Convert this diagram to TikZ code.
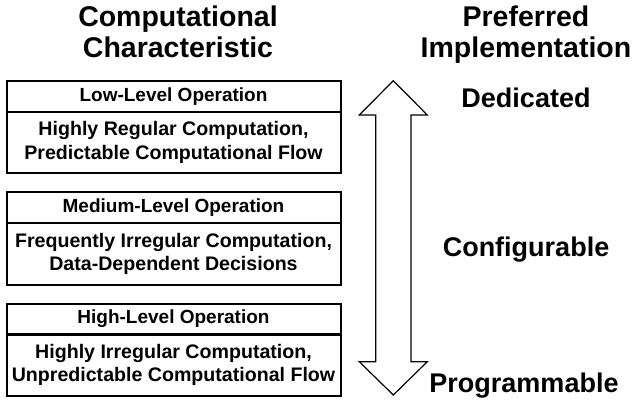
\documentclass[tikz,border=0pt]{standalone}
\usepackage{fontspec}
\setmainfont{Liberation Sans}
\begin{document}
\begin{tikzpicture}[x=1pt,y=-1pt,
  titlecell/.style={draw, line width=2pt, minimum width=334pt, minimum height=31pt, inner sep=0pt, align=center, font=\bfseries\fontsize{19}{23.3}\selectfont},
  bodycell/.style={draw, line width=2pt, minimum width=334pt, minimum height=61.5pt, inner sep=0pt, align=center, font=\bfseries\fontsize{19.6}{23.3}\selectfont},
  head/.style={anchor=base, inner sep=0pt, font=\bfseries\fontsize{28.5}{31}\selectfont},
  impl/.style={anchor=base, inner sep=0pt, font=\bfseries\fontsize{27}{30}\selectfont},
  bigarrow/.style={draw, line width=1.2pt, line join=miter}]
\useasboundingbox (0,0) rectangle (639,399);

% headings
\node[head] (h1a) at (178,26.7) {Computational};
\node[head] (h1b) at (178,57.7) {Characteristic};
\node[head] (h2a) at (526,26.7) {Preferred};
\node[head] (h2b) at (526,57.7) {Implementation};

% boxes
\node[titlecell] (lowT) at (173.5,96.5) {Low-Level Operation};
\node[bodycell] (lowB) at (173.5,142.5) {Highly Regular Computation,\\Predictable Computational Flow};

\node[titlecell] (medT) at (173.5,207.5) {Medium-Level Operation};
\node[bodycell] (medB) at (173.5,254) {Frequently Irregular Computation,\\Data-Dependent Decisions};

\node[titlecell] (highT) at (173.5,319) {High-Level Operation};
\node[bodycell] (highB) at (173.5,365) {Highly Irregular Computation,\\Unpredictable Computational Flow};

% double arrow
\draw[bigarrow] (393.3,80.7) -- (427.3,115) -- (411,115) -- (411,361.7) -- (427.3,361.7)
  -- (393.3,395) -- (359.3,361.7) -- (375.7,361.7) -- (375.7,115) -- (359.3,115) -- cycle;

% implementation labels
\node[impl] (ded) at (526,107.3) {Dedicated};
\node[impl] (conf) at (526,256) {Configurable};
\node[impl] (prog) at (524,392.5) {Programmable};
\end{tikzpicture}
\end{document}
